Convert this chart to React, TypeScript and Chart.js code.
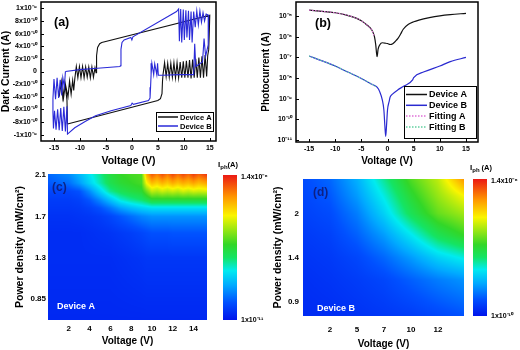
import React, { useEffect, useRef } from "react";
import { Chart, registerables } from "chart.js";
Chart.register(...registerables);

const FONT = "'Liberation Sans', Arial, Helvetica, sans-serif";

// ---------------- (a) Dark current (current in units of 1e-10 A) ----------------
const DARK_UNIT = 1e-10;
const darkA: number[][] = [
  [-12.4, -8.3], [-12.5, -4.5], [-12.9, -1.8], [-13.3, -4.2], [-13.6, -1.6], [-14.0, -4.0], [-13.7, -2.2],
  [-13.2, -4.4], [-12.8, -2.0], [-12.3, -4.0], [-12.0, -1.5], [-11.7, -3.6], [-11.4, -1.4], [-11.2, -3.0],
  [-11.0, -1.2], [-10.7, 0.8], [-10.4, -1.0], [-10.1, 0.8], [-9.8, -1.0], [-9.5, 0.8], [-9.2, -1.0],
  [-8.9, 0.7], [-8.6, -0.9], [-8.3, 0.7], [-8.0, -1.0], [-7.7, 0.7], [-7.4, -0.9], [-7.1, 0.6], [-6.9, -0.2],
  [-6.8, 2.5], [-6.6, 3.8], [-6.2, 4.4], [-5.8, 4.6], [15.0, 8.9], [14.9, 6.0], [14.8, 3.5], [14.6, 2.5],
  [14.4, -0.8], [14.1, 2.6], [13.8, -1.0], [13.5, 2.4], [13.2, -1.0], [12.9, 2.2], [12.6, -1.0], [12.3, 2.0],
  [12.0, -1.0], [11.7, 1.9], [11.4, -1.1], [11.1, 1.8], [10.8, -1.0], [10.5, 1.7], [10.2, -1.0], [9.9, 1.6],
  [9.6, -1.0], [9.3, 1.5], [9.0, -1.0], [8.7, 1.4], [8.4, -1.0], [8.1, 1.4], [7.8, -0.9], [7.5, 1.3],
  [7.2, -0.9], [6.9, 1.3], [6.6, -0.8], [6.3, 1.4], [6.0, -0.5], [5.9, -1.5], [5.8, -3.5], [5.5, -4.3],
  [5.0, -4.6], [-12.4, -8.3],
];
const darkB: number[][] = [
  [-12.8, 0.0], [-10, 0.3], [-6, 0.55], [-2.3, 0.8], [-2.2, 0.9], [-2.1, 3.5], [-1.9, 4.6], [-1.5, 5.0],
  [-0.2, 5.4], [0, 5.0], [0.2, 5.5], [8.6, 9.5], [9.0, 9.9], [9.15, 4.8], [9.4, 9.9], [9.6, 4.6], [9.9, 9.8],
  [10.1, 5.0], [10.4, 9.7], [10.6, 5.4], [10.9, 9.6], [11.1, 5.0], [11.4, 9.5], [11.6, 4.6], [11.9, 9.5],
  [12.2, 7.0], [12.5, 9.6], [12.8, 7.4], [13.1, 9.6], [13.4, 7.8], [13.7, 9.3], [14.0, 8.0], [14.3, 9.1],
  [14.8, 8.9], [14.7, 4.2], [14.2, 2.4], [13.9, 5.2], [13.6, 1.5], [12.3, 0.8], [12.1, 4.4], [11.9, -0.5],
  [9, -0.5], [6, -0.6], [5.1, -0.6], [4.95, 1.3], [4.8, -0.5], [4.4, 1.2], [4.2, -0.5], [3.85, 1.3],
  [3.7, -0.5], [3.6, -2.5], [3.5, -4.2], [3.2, -4.6], [0.3, -5.2], [0.05, -5.0], [-0.2, -5.4], [-4, -6.2],
  [-7, -7.0], [-9, -7.9], [-11, -8.9], [-12.4, -9.9], [-12.5, -5.5], [-12.8, -9.5], [-13.1, -5.6],
  [-13.4, -9.4], [-13.7, -5.8], [-14.0, -9.3], [-14.3, -6.0], [-14.6, -9.2], [-14.9, -6.2], [-15.1, -9.0],
  [-15.2, -6.5], [-15.2, -4.3], [-15.0, -1.2], [-14.7, -4.4], [-14.4, -1.0], [-14.1, -4.2], [-13.8, -1.3],
  [-13.5, -3.8], [-13.3, -1.0], [-13.0, -2.5], [-12.8, 0.0],
];
const darkXTicks = [-15, -10, -5, 0, 5, 10, 15];
const darkYTicks = [-10, -8, -6, -4, -2, 0, 2, 4, 6, 8, 10];
const darkYLabels = ["-1x10⁻⁹", "-8x10⁻¹⁰", "-6x10⁻¹⁰", "-4x10⁻¹⁰", "-2x10⁻¹⁰", "0", "2x10⁻¹⁰", "4x10⁻¹⁰", "6x10⁻¹⁰", "8x10⁻¹⁰", "1x10⁻⁹"];

// ---------------- (b) Photocurrent ----------------
const photoA: number[][] = [
  [-15, 1.94e-5], [-12, 1.65e-5], [-10, 1.45e-5], [-8, 1.15e-5], [-6, 8e-6], [-5, 5.9e-6], [-4, 3.8e-6],
  [-3, 2.1e-6], [-2.5, 1.0e-6], [-2.25, 4e-7], [-2.0, 1.07e-7], [-1.8, 2.5e-7], [-1.5, 4e-7], [-1, 5.1e-7],
  [-0.5, 4.9e-7], [0, 4.7e-7], [0.5, 4.2e-7], [1, 4.6e-7], [1.5, 6e-7], [2, 8.3e-7], [2.5, 1.35e-6],
  [3, 2.3e-6], [4, 4e-6], [5, 5.3e-6], [6, 6.4e-6], [8, 8.4e-6], [10, 1.03e-5], [12, 1.18e-5], [15, 1.35e-5],
];
const photoB: number[][] = [
  [-15, 1.17e-7], [-12.5, 6.8e-8], [-10, 3.8e-8], [-7.5, 1.9e-8], [-5, 9.5e-9], [-3, 5e-9], [-2, 3.6e-9],
  [-1.5, 2.2e-9], [-1, 8.7e-10], [-0.7, 2.9e-10], [-0.5, 4.5e-11], [-0.35, 1.5e-11], [-0.2, 4.5e-11],
  [0, 2.9e-10], [0.3, 7.2e-10], [0.5, 1.2e-9], [1, 1.7e-9], [2, 2.7e-9], [3, 3.9e-9], [4.8, 8.1e-9],
  [5, 1.05e-8], [7, 2.0e-8], [10, 3.8e-8], [12, 6.2e-8], [15, 1.0e-7],
];
const fitA: number[][] = [
  [-15, 1.94e-5], [-12, 1.65e-5], [-10, 1.45e-5], [-8, 1.15e-5], [-6, 8e-6], [-5, 5.9e-6], [-4, 3.8e-6],
  [-3, 2.1e-6], [-2.5, 1.0e-6],
];
const fitB: number[][] = [
  [-15, 1.17e-7], [-12.5, 6.8e-8], [-10, 3.8e-8], [-7.5, 1.9e-8], [-5, 9.5e-9], [-3, 5e-9], [-2, 3.6e-9],
];
const photoXTicks = [-15, -10, -5, 0, 5, 10, 15];
const photoYTicks = [1e-11, 1e-10, 1e-9, 1e-8, 1e-7, 1e-6, 1e-5];
const photoYLabels = ["10⁻¹¹", "10⁻¹⁰", "10⁻⁹", "10⁻⁸", "10⁻⁷", "10⁻⁶", "10⁻⁵"];

// ---------------- (c) Device A map: colour level (0..1 of colour bar) ----------------
const heatCX = [0, 2, 3, 4, 5, 6, 7, 8, 9, 9.5, 10, 10.5, 11, 11.5, 12, 12.5, 13, 13.5, 14, 14.5, 15.3];
const heatCY = [-0.5, 1.0, 1.6, 2.0, 2.2, 2.4, 2.6, 2.8, 3.02];
const heatCLevels: number[][] = [
  [0.04, 0.04, 0.04, 0.04, 0.04, 0.04, 0.04, 0.04, 0.04, 0.04, 0.04, 0.04, 0.04, 0.04, 0.04, 0.04, 0.04, 0.04, 0.04, 0.04, 0.04],
  [0.05, 0.05, 0.05, 0.05, 0.05, 0.05, 0.055, 0.06, 0.065, 0.07, 0.07, 0.07, 0.07, 0.07, 0.07, 0.07, 0.07, 0.07, 0.07, 0.07, 0.07],
  [0.05, 0.05, 0.05, 0.055, 0.06, 0.065, 0.075, 0.085, 0.1, 0.11, 0.12, 0.12, 0.12, 0.12, 0.125, 0.125, 0.125, 0.125, 0.125, 0.125, 0.125],
  [0.06, 0.06, 0.065, 0.07, 0.08, 0.1, 0.13, 0.16, 0.19, 0.2, 0.21, 0.21, 0.21, 0.21, 0.21, 0.21, 0.21, 0.21, 0.21, 0.21, 0.21],
  [0.07, 0.07, 0.075, 0.09, 0.12, 0.17, 0.23, 0.27, 0.3, 0.31, 0.32, 0.32, 0.32, 0.32, 0.32, 0.32, 0.32, 0.32, 0.32, 0.32, 0.32],
  [0.08, 0.08, 0.09, 0.13, 0.2, 0.28, 0.36, 0.4, 0.43, 0.46, 0.5, 0.5, 0.5, 0.5, 0.5, 0.5, 0.5, 0.5, 0.5, 0.5, 0.5],
  [0.1, 0.1, 0.12, 0.2, 0.3, 0.4, 0.45, 0.48, 0.5, 0.58, 0.66, 0.64, 0.67, 0.65, 0.67, 0.65, 0.68, 0.66, 0.68, 0.67, 0.68],
  [0.13, 0.16, 0.22, 0.3, 0.38, 0.46, 0.5, 0.52, 0.54, 0.72, 0.8, 0.77, 0.81, 0.78, 0.82, 0.79, 0.82, 0.8, 0.83, 0.8, 0.83],
  [0.15, 0.2, 0.26, 0.33, 0.4, 0.48, 0.52, 0.54, 0.55, 0.82, 0.93, 0.88, 0.94, 0.89, 0.95, 0.9, 0.95, 0.91, 0.96, 0.92, 0.97],
];
const heatCXTicks = [2, 4, 6, 8, 10, 12, 14];
const heatCXLabels = ["2", "4", "6", "8", "10", "12", "14"];
const heatCYTicks = [0, 1, 2, 3];
const heatCYLabels = ["0.85", "1.3", "1.7", "2.1"];
const barCLabels = ["1.4x10⁻⁶", "1x10⁻¹¹"];

// ---------------- (d) Device B map ----------------
const heatDX = [-1, 0, 1, 2, 3, 4, 4.96];
const heatDY = [-0.32, 0.5, 1.0, 1.5, 2.0, 2.4, 2.78];
const heatDLevels: number[][] = [
  [0.045, 0.05, 0.06, 0.07, 0.08, 0.1, 0.12],
  [0.055, 0.065, 0.08, 0.1, 0.14, 0.18, 0.21],
  [0.065, 0.075, 0.1, 0.15, 0.22, 0.3, 0.35],
  [0.075, 0.09, 0.14, 0.22, 0.33, 0.45, 0.52],
  [0.09, 0.11, 0.18, 0.3, 0.45, 0.57, 0.63],
  [0.1, 0.13, 0.22, 0.35, 0.5, 0.62, 0.72],
  [0.11, 0.15, 0.25, 0.4, 0.55, 0.66, 0.85],
];
const heatDXTicks = [0, 1, 2, 3, 4];
const heatDXLabels = ["2", "5", "7", "10", "12"];
const heatDYTicks = [0, 1, 2];
const heatDYLabels = ["0.9", "1.4", "2"];
const barDLabels = ["1.4x10⁻⁶", "1x10⁻¹⁰"];

// colour bar stops (level, rgb)
const jetStops: [number, number[]][] = [
  [0, [0, 20, 235]],
  [0.12, [0, 80, 255]],
  [0.24, [0, 170, 255]],
  [0.34, [0, 235, 240]],
  [0.43, [20, 228, 100]],
  [0.52, [50, 215, 40]],
  [0.62, [150, 230, 20]],
  [0.72, [250, 245, 0]],
  [0.85, [255, 150, 0]],
  [1, [235, 25, 20]],
];

function cmap(t: number): number[] {
  const v = Math.max(0, Math.min(1, t));
  for (let k = 0; k < jetStops.length - 1; k++) {
    const [t0, c0] = jetStops[k];
    const [t1, c1] = jetStops[k + 1];
    if (v <= t1) {
      const f = (v - t0) / (t1 - t0);
      return [0, 1, 2].map((i) => Math.round(c0[i] + (c1[i] - c0[i]) * f));
    }
  }
  return jetStops[jetStops.length - 1][1];
}

function bilinear(xs: number[], ys: number[], L: number[][], x: number, y: number) {
  let i = 0;
  while (i < xs.length - 2 && x > xs[i + 1]) i++;
  let j = 0;
  while (j < ys.length - 2 && y > ys[j + 1]) j++;
  const tx = Math.max(0, Math.min(1, (x - xs[i]) / (xs[i + 1] - xs[i])));
  const ty = Math.max(0, Math.min(1, (y - ys[j]) / (ys[j + 1] - ys[j])));
  const a = L[j][i] * (1 - tx) + L[j][i + 1] * tx;
  const b = L[j + 1][i] * (1 - tx) + L[j + 1][i + 1] * tx;
  return a * (1 - ty) + b * ty;
}

const fitW = (w: number) => (s: any) => {
  s.width = w;
  s.paddingTop = 0; s.paddingBottom = 0; s.paddingLeft = 0; s.paddingRight = 0;
};
const fitH = (h: number) => (s: any) => {
  s.height = h;
  s.paddingTop = 0; s.paddingBottom = 0; s.paddingLeft = 0; s.paddingRight = 0;
};

function axis(o: any) {
  return {
    type: o.type || "linear",
    min: o.min,
    max: o.max,
    afterBuildTicks: (s: any) => { s.ticks = o.ticks.map((v: number) => ({ value: v })); },
    afterFit: o.fit,
    grid: { display: false, drawTicks: false },
    border: { display: false },
    ticks: {
      padding: o.pad,
      color: "#000",
      font: { family: FONT, size: o.size || 7, weight: "bold" },
      maxRotation: 0, minRotation: 0, autoSkip: false,
      callback: (_v: any, i: number) => o.labels[i],
    },
    title: {
      display: true, text: o.title, color: "#000",
      font: { family: FONT, size: o.titleSize || 10.5, weight: "bold" },
      padding: o.titlePad,
    },
  };
}

const framePlugin = {
  id: "frame",
  afterDatasetsDraw(chart: any) {
    const { ctx, chartArea } = chart;
    const { left, top, right, bottom } = chartArea;
    const sx = chart.scales.x, sy = chart.scales.y;
    ctx.save();
    ctx.strokeStyle = "#000";
    ctx.lineWidth = 1;
    ctx.beginPath();
    sx.ticks.forEach((t: any) => {
      const p = Math.round(sx.getPixelForValue(t.value)) + 0.5;
      ctx.moveTo(p, bottom); ctx.lineTo(p, bottom - 3);
    });
    sy.ticks.forEach((t: any) => {
      const p = Math.round(sy.getPixelForValue(t.value)) + 0.5;
      ctx.moveTo(left, p); ctx.lineTo(left + 3, p);
    });
    ctx.stroke();
    ctx.lineWidth = 1.5;
    ctx.strokeRect(left, top, right - left, bottom - top);
    ctx.restore();
  },
};

function makeLabelPlugin(text: string, x: number, y: number, size: number, color: string) {
  return {
    id: "panelLabel",
    afterDraw(chart: any) {
      const ctx = chart.ctx;
      ctx.save();
      ctx.font = `bold ${size}px ${FONT}`;
      ctx.fillStyle = color;
      ctx.textBaseline = "middle";
      ctx.fillText(text, x, y);
      ctx.restore();
    },
  };
}

function makeBoxLegend(cfg: any) {
  return {
    id: "boxLegend",
    afterDraw(chart: any) {
      const ctx = chart.ctx;
      ctx.save();
      ctx.fillStyle = "#fff";
      ctx.fillRect(cfg.x, cfg.y, cfg.w, cfg.h);
      ctx.strokeStyle = "#000";
      ctx.lineWidth = 1;
      ctx.strokeRect(cfg.x + 0.5, cfg.y + 0.5, cfg.w, cfg.h);
      chart.data.datasets.forEach((ds: any, i: number) => {
        const yy = cfg.y + cfg.first + i * cfg.row;
        ctx.strokeStyle = ds.borderColor;
        ctx.lineWidth = 1.5;
        ctx.setLineDash(ds.borderDash || []);
        ctx.beginPath();
        ctx.moveTo(cfg.x + 2, yy);
        ctx.lineTo(cfg.x + 2 + cfg.line, yy);
        ctx.stroke();
        ctx.setLineDash([]);
        ctx.fillStyle = "#000";
        ctx.font = `bold ${cfg.font}px ${FONT}`;
        ctx.textBaseline = "middle";
        ctx.fillText(ds.label, cfg.x + 4 + cfg.line, yy + 0.5);
      });
      ctx.restore();
    },
  };
}

function makeHeatPlugin(xs: number[], ys: number[], L: number[][], cb: any) {
  return {
    id: "heat",
    beforeDatasetsDraw(chart: any) {
      const { ctx, chartArea: a } = chart;
      const sx = chart.scales.x, sy = chart.scales.y;
      const w = Math.round(a.right - a.left), h = Math.round(a.bottom - a.top);
      const off = document.createElement("canvas");
      off.width = w; off.height = h;
      const octx = off.getContext("2d") as CanvasRenderingContext2D;
      const img = octx.createImageData(w, h);
      for (let py = 0; py < h; py++) {
        const yv = sy.getValueForPixel(a.top + py + 0.5);
        for (let px = 0; px < w; px++) {
          const xv = sx.getValueForPixel(a.left + px + 0.5);
          const c = cmap(bilinear(xs, ys, L, xv, yv));
          const k = (py * w + px) * 4;
          img.data[k] = c[0]; img.data[k + 1] = c[1]; img.data[k + 2] = c[2]; img.data[k + 3] = 255;
        }
      }
      octx.putImageData(img, 0, 0);
      ctx.drawImage(off, a.left, a.top);
    },
    afterDraw(chart: any) {
      const { ctx, chartArea: a } = chart;
      ctx.save();
      // colour bar
      const bx = a.right + cb.gap, bt = a.top + cb.topOff, bb = a.bottom;
      const g = ctx.createLinearGradient(0, bb, 0, bt);
      jetStops.forEach(([t, c]) => g.addColorStop(t, `rgb(${c[0]},${c[1]},${c[2]})`));
      ctx.fillStyle = g;
      ctx.fillRect(bx, bt, cb.w, bb - bt);
      ctx.fillStyle = "#000";
      ctx.textBaseline = "middle";
      ctx.font = `bold 7px ${FONT}`;
      ctx.fillText(cb.labels[0], bx + cb.w + 4, bt + 2);
      ctx.fillText(cb.labels[1], bx + cb.w + 4, bb);
      // I_ph(A)
      let x = cb.iphX;
      ctx.font = `bold 8px ${FONT}`;
      ctx.fillText("I", x, cb.iphY);
      x += ctx.measureText("I").width;
      ctx.font = `bold 6px ${FONT}`;
      ctx.fillText("ph", x, cb.iphY + 2);
      x += ctx.measureText("ph").width + cb.space;
      ctx.font = `bold 7.5px ${FONT}`;
      ctx.fillText("(A)", x, cb.iphY);
      // panel label & device name
      ctx.font = `bold 12px ${FONT}`;
      ctx.fillStyle = "rgba(15,25,110,0.85)";
      ctx.fillText(cb.panel, a.left + cb.panelDx, a.top + cb.panelDy);
      ctx.font = `bold 9px ${FONT}`;
      ctx.fillStyle = "#fff";
      ctx.fillText(cb.device, a.left + cb.devDx, a.bottom - cb.devDy);
      ctx.restore();
    },
  };
}

const toXY = (arr: number[][], scale = 1) => arr.map(([x, y]) => ({ x, y: y * scale }));

function makeA(canvas: HTMLCanvasElement) {
  return new Chart(canvas, {
    type: "line",
    data: {
      datasets: [
        { label: "Device A", data: toXY(darkA, DARK_UNIT), borderColor: "#111111", borderWidth: 1.1, pointRadius: 0, tension: 0, order: 1 },
        { label: "Device B", data: toXY(darkB, DARK_UNIT), borderColor: "#2a2ad8", borderWidth: 1.1, pointRadius: 0, tension: 0, order: 0 },
      ],
    },
    options: {
      responsive: false, animation: false, devicePixelRatio: 1,
      layout: { padding: { left: 0, top: 2, right: 44, bottom: 0 } },
      plugins: { legend: { display: false }, tooltip: { enabled: false } },
      scales: {
        x: axis({ min: -17.5, max: 16.2, ticks: darkXTicks, labels: darkXTicks.map(String), pad: 3, fit: fitH(31), title: "Voltage (V)", titleSize: 10.5, titlePad: { top: 0, bottom: 5 } }),
        y: axis({ min: -1.1e-9, max: 1.1e-9, ticks: darkYTicks.map((v) => v * DARK_UNIT), labels: darkYLabels, pad: 4, fit: fitW(41), title: "Dark Current (A)", titleSize: 10.5, titlePad: { top: 0, bottom: 0 } }),
      },
    } as any,
    plugins: [framePlugin, makeLabelPlugin("(a)", 54, 23, 12.5, "#000"), makeBoxLegend({ x: 156, y: 112, w: 57, h: 19, first: 5, row: 9, line: 20, font: 7.5 })],
  } as any);
}

function makeB(canvas: HTMLCanvasElement) {
  const common = { pointRadius: 0, cubicInterpolationMode: "monotone" };
  return new Chart(canvas, {
    type: "line",
    data: {
      datasets: [
        { label: "Device A", data: toXY(photoA), borderColor: "#111111", borderWidth: 1.2, order: 1, ...common },
        { label: "Device B", data: toXY(photoB), borderColor: "#2a2ad0", borderWidth: 1.2, order: 1, ...common },
        { label: "Fitting A", data: toXY(fitA), borderColor: "#e070d8", borderWidth: 1.1, borderDash: [1.5, 1.5], order: 0, ...common },
        { label: "Fitting B", data: toXY(fitB), borderColor: "#60d0a0", borderWidth: 1.1, borderDash: [1.5, 1.5], order: 0, ...common },
      ],
    },
    options: {
      responsive: false, animation: false, devicePixelRatio: 1,
      layout: { padding: { left: 0, top: 2, right: 42, bottom: 0 } },
      plugins: { legend: { display: false }, tooltip: { enabled: false } },
      scales: {
        x: axis({ min: -17.5, max: 17.3, ticks: photoXTicks, labels: photoXTicks.map(String), pad: 3, fit: fitH(30), title: "Voltage (V)", titleSize: 10, titlePad: { top: 0, bottom: 5 } }),
        y: axis({ type: "logarithmic", min: 8e-12, max: 4.8e-5, ticks: photoYTicks, labels: photoYLabels, pad: 4, fit: fitW(36), title: "Photocurrent (A)", titleSize: 10, titlePad: { top: 0, bottom: 0 } }),
      },
    } as any,
    plugins: [framePlugin, makeLabelPlugin("(b)", 55, 24, 12.5, "#000"), makeBoxLegend({ x: 144, y: 86, w: 72, h: 52, first: 8.5, row: 10.8, line: 21, font: 9 })],
  } as any);
}

function makeHeat(canvas: HTMLCanvasElement, cfg: any) {
  const nodes: any[] = [];
  cfg.ys.forEach((y: number) => cfg.xs.forEach((x: number) => nodes.push({ x, y })));
  return new Chart(canvas, {
    type: "scatter",
    data: { datasets: [{ label: cfg.device, data: nodes, pointRadius: 0, showLine: false }] },
    options: {
      responsive: false, animation: false, devicePixelRatio: 1,
      layout: { padding: { left: 0, top: cfg.top, right: cfg.right, bottom: 0 } },
      plugins: { legend: { display: false }, tooltip: { enabled: false } },
      scales: {
        x: axis({ min: cfg.xmin, max: cfg.xmax, ticks: cfg.xTicks, labels: cfg.xLabels, pad: cfg.xPad, size: 8, fit: fitH(cfg.xh), title: "Voltage (V)", titleSize: 10, titlePad: { top: 0, bottom: cfg.xTitlePad } }),
        y: axis({ min: cfg.ymin, max: cfg.ymax, ticks: cfg.yTicks, labels: cfg.yLabels, pad: cfg.yPad, size: 8, fit: fitW(cfg.yw), title: "Power density (mW/cm²)", titleSize: 10.5, titlePad: { top: cfg.yTitlePad, bottom: 0 } }),
      },
    } as any,
    plugins: [makeHeatPlugin(cfg.xs, cfg.ys, cfg.levels, cfg.cb)],
  } as any);
}

export default function App() {
  const ra = useRef<HTMLCanvasElement>(null);
  const rb = useRef<HTMLCanvasElement>(null);
  const rc = useRef<HTMLCanvasElement>(null);
  const rd = useRef<HTMLCanvasElement>(null);

  useEffect(() => {
    const charts = [
      makeA(ra.current as HTMLCanvasElement),
      makeB(rb.current as HTMLCanvasElement),
      makeHeat(rc.current as HTMLCanvasElement, {
        xs: heatCX, ys: heatCY, levels: heatCLevels, device: "Device A",
        top: 14, right: 73, xmin: 0, xmax: 15.3, ymin: -0.5, ymax: 3.02,
        xTicks: heatCXTicks, xLabels: heatCXLabels, yTicks: heatCYTicks, yLabels: heatCYLabels,
        xPad: 4, yPad: 2, xh: 30, yw: 48, xTitlePad: 3, yTitlePad: 14,
        cb: { gap: 16, topOff: 1, w: 14, labels: barCLabels, iphX: 218, iphY: 5, space: 0, panel: "(c)", panelDx: 4, panelDy: 14, device: "Device A", devDx: 9, devDy: 13 },
      }),
      makeHeat(rd.current as HTMLCanvasElement, {
        xs: heatDX, ys: heatDY, levels: heatDLevels, device: "Device B",
        top: 19, right: 56, xmin: -1, xmax: 4.96, ymin: -0.32, ymax: 2.78,
        xTicks: heatDXTicks, xLabels: heatDXLabels, yTicks: heatDYTicks, yLabels: heatDYLabels,
        xPad: 9, yPad: 4, xh: 34, yw: 43, xTitlePad: 0, yTitlePad: 12,
        cb: { gap: 9, topOff: 0, w: 14, labels: barDLabels, iphX: 210, iphY: 8, space: 2, panel: "(d)", panelDx: 10, panelDy: 14, device: "Device B", devDx: 14, devDy: 7 },
      }),
    ];
    return () => charts.forEach((c) => c.destroy());
  }, []);

  return (
    <div style={{ position: "fixed", left: 0, top: 0, width: 520, height: 350, background: "#fff", overflow: "hidden" }}>
      <canvas ref={ra} width={260} height={172} style={{ position: "absolute", left: 0, top: 0 }} />
      <canvas ref={rb} width={260} height={172} style={{ position: "absolute", left: 260, top: 0 }} />
      <canvas ref={rc} width={280} height={190} style={{ position: "absolute", left: 0, top: 160 }} />
      <canvas ref={rd} width={260} height={190} style={{ position: "absolute", left: 260, top: 160 }} />
    </div>
  );
}
